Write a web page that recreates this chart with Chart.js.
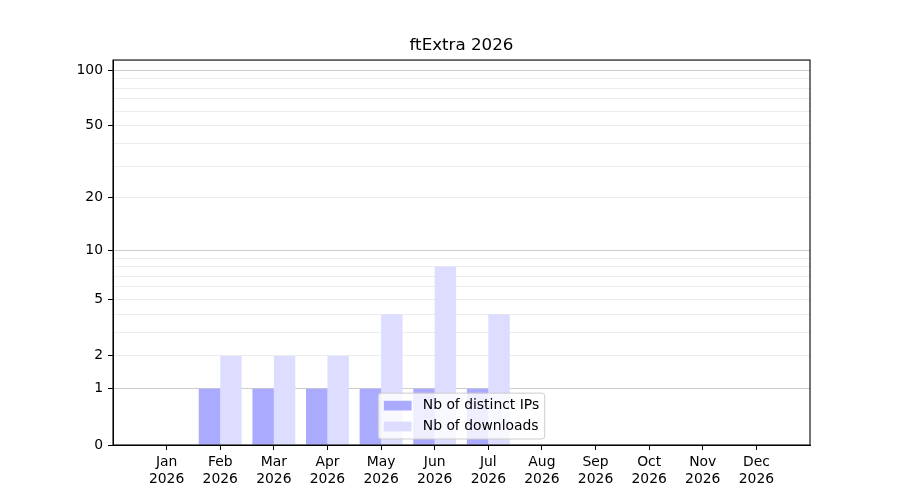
<!DOCTYPE html>
<html>
<head>
<meta charset="utf-8">
<script src="https://cdn.jsdelivr.net/npm/chart.js@4/dist/chart.umd.min.js"></script>
<style>
  body { margin: 0; background: #fff; }
</style>
</head>
<body>
<canvas id="chart" width="900" height="500"></canvas>
<script>
const months = ['Jan', 'Feb', 'Mar', 'Apr', 'May', 'Jun', 'Jul', 'Aug', 'Sep', 'Oct', 'Nov', 'Dec'];
const year = '2026';
const distinctIPs = [0, 1, 1, 1, 1, 1, 1, 0, 0, 0, 0, 0];
const downloads = [0, 2, 2, 2, 4, 8, 4, 0, 0, 0, 0, 0];
const yLabelled = [0, 1, 2, 5, 10, 20, 50, 100];
const yMajor = [1, 10, 100];
const yMinor = [2, 3, 4, 5, 6, 7, 8, 9, 20, 30, 40, 50, 60, 70, 80, 90];

// y axis in matplotlib looks like log10(1 + v)
class Log1pScale extends Chart.LinearScale {
    configure() {
        super.configure();
        this._lo = Math.log10(1 + this.min);
        this._span = Math.log10(1 + this.max) - this._lo;
    }
    getPixelForValue(v) {
        return this.getPixelForDecimal((Math.log10(1 + v) - this._lo) / this._span);
    }
    getValueForPixel(p) {
        return Math.pow(10, this._lo + this.getDecimalForPixel(p) * this._span) - 1;
    }
}
Log1pScale.id = 'log1p';
Log1pScale.defaults = Chart.LinearScale.defaults;
Chart.register(Log1pScale);

Chart.defaults.font.family = 'DejaVu Sans';
Chart.defaults.font.size = 13.9;
Chart.defaults.color = '#000';

// box around the plot + legend inside at lower center
const framePlugin = {
    id: 'frame',
    afterDatasetsDraw(chart) {
        const { ctx, chartArea: a } = chart;
        const em = 13.9;
        ctx.save();
        ctx.font = em + 'px "DejaVu Sans"';
        const items = chart.data.datasets;
        const tw = Math.max(...items.map(d => ctx.measureText(d.label).width));
        const w = 0.4 * em + 2 * em + 0.8 * em + tw + 0.4 * em;
        const rowH = em;
        const h = 0.8 * em + items.length * rowH + (items.length - 1) * 0.5 * em;
        const x0 = (a.left + a.right) / 2 - w / 2;
        const y0 = a.bottom - 6 - h;
        ctx.beginPath();
        ctx.roundRect(x0, y0, w, h, 3);
        ctx.fillStyle = 'rgba(255,255,255,0.8)';
        ctx.fill();
        ctx.strokeStyle = '#cccccc';
        ctx.lineWidth = 1;
        ctx.stroke();
        items.forEach((d, i) => {
            const cy = y0 + 0.4 * em + rowH / 2 + i * (rowH + 0.5 * em);
            ctx.fillStyle = d.backgroundColor;
            ctx.fillRect(x0 + 0.4 * em, cy - 0.35 * em, 2 * em, 0.7 * em);
            ctx.fillStyle = '#000';
            ctx.textBaseline = 'middle';
            ctx.fillText(d.label, x0 + 0.4 * em + 2.8 * em, cy);
        });
        ctx.restore();
    },
    afterDraw(chart) {
        const { ctx, chartArea: a } = chart;
        ctx.save();
        ctx.strokeStyle = '#000';
        ctx.lineWidth = 1.1;
        ctx.strokeRect(a.left, a.top, a.right - a.left, a.bottom - a.top);
        ctx.restore();
    }
};

new Chart(document.getElementById('chart'), {
    type: 'bar',
    data: {
        labels: months.map((m, i) => i + 1),
        datasets: [{
            label: 'Nb of distinct IPs',
            data: distinctIPs,
            backgroundColor: '#aaaaff'
        }, {
            label: 'Nb of downloads',
            data: downloads,
            backgroundColor: '#ddddff'
        }]
    },
    options: {
        responsive: false,
        animation: false,
        devicePixelRatio: 1,
        categoryPercentage: 0.8,
        barPercentage: 1,
        layout: { padding: { left: 0, right: 90, top: 0, bottom: 0 } },
        plugins: {
            legend: { display: false },
            tooltip: { enabled: false },
            title: {
                display: true,
                fullSize: false,
                text: 'ftExtra ' + year,
                font: { size: 16.7, weight: 'normal' },
                color: '#000',
                padding: { top: 36, bottom: 4 }
            }
        },
        scales: {
            x: {
                type: 'linear',
                min: 0,
                max: 13,
                offset: false,
                afterBuildTicks: s => { s.ticks = months.map((m, i) => ({ value: i + 1 })); },
                afterFit: s => { s.height = 55; },
                ticks: {
                    autoSkip: false,
                    maxRotation: 0,
                    padding: 4,
                    callback: v => [months[v - 1], year]
                },
                grid: { offset: false, drawOnChartArea: false, drawTicks: true, tickLength: 5, tickColor: '#000' },
                border: { color: '#000', width: 1 }
            },
            y: {
                type: 'log1p',
                min: 0,
                max: 113.5,
                bounds: 'data',
                afterBuildTicks: s => {
                    s.ticks = [0, 1, 2, 3, 4, 5, 6, 7, 8, 9, 10, 20, 30, 40, 50, 60, 70, 80, 90, 100].map(v => ({ value: v }));
                },
                afterFit: s => { s.width = 113; },
                ticks: {
                    autoSkip: false,
                    padding: 5,
                    callback: v => yLabelled.includes(v) ? String(v) : ''
                },
                grid: {
                    lineWidth: 1,
                    tickLength: 5,
                    color: c => {
                        const v = c.tick && c.tick.value;
                        if (yMajor.includes(v)) return '#cccccc';
                        if (yMinor.includes(v)) return '#ececec';
                        return 'rgba(0,0,0,0)';
                    },
                    tickColor: c => yLabelled.includes(c.tick && c.tick.value) ? '#000' : 'rgba(0,0,0,0)'
                },
                border: { color: '#000', width: 1 }
            }
        }
    },
    plugins: [framePlugin]
});
</script>
</body>
</html>
